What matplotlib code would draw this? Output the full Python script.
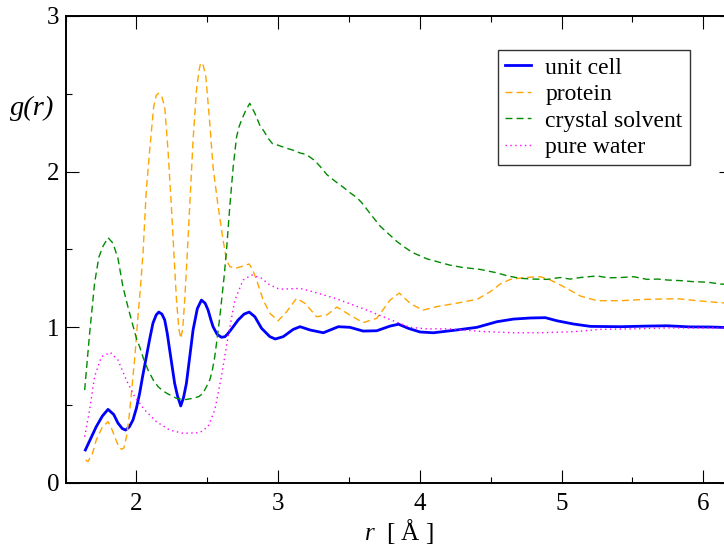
import matplotlib
matplotlib.use("Agg")
import matplotlib.pyplot as plt
from matplotlib.ticker import MultipleLocator

plt.rcParams['font.family'] = ['Liberation Serif', 'DejaVu Serif']
plt.rcParams['mathtext.fontset'] = 'custom'
plt.rcParams['mathtext.it'] = 'Liberation Serif:italic'
plt.rcParams['mathtext.rm'] = 'Liberation Serif'

# g(r) curves, r in Angstrom
r_cell = [1.64, 1.68, 1.717, 1.76, 1.80, 1.84, 1.87, 1.90, 1.924, 1.95, 1.976, 2.00, 2.023,
          2.045, 2.07, 2.095, 2.117, 2.14, 2.158, 2.18, 2.20, 2.218, 2.235, 2.252, 2.27, 2.29,
          2.313, 2.333, 2.353, 2.375, 2.40, 2.43, 2.459, 2.485, 2.506, 2.525, 2.541, 2.57, 2.60,
          2.625, 2.647, 2.68, 2.718, 2.76, 2.796, 2.836, 2.883, 2.942, 2.98, 3.036, 3.107, 3.155,
          3.225, 3.319, 3.425, 3.507, 3.60, 3.696, 3.79, 3.85, 3.92, 4.002, 4.096, 4.261, 4.403,
          4.544, 4.661, 4.78, 4.886, 4.968, 5.086, 5.204, 5.416, 5.604, 5.746, 5.90, 6.05, 6.2]
g_cell = [0.212, 0.29, 0.362, 0.43, 0.473, 0.44, 0.385, 0.35, 0.34, 0.36, 0.405, 0.48, 0.576,
          0.69, 0.81, 0.93, 1.027, 1.08, 1.098, 1.085, 1.047, 0.96, 0.854, 0.75, 0.64, 0.56,
          0.495, 0.55, 0.64, 0.80, 0.983, 1.12, 1.175, 1.155, 1.111, 1.05, 1.004, 0.955, 0.936,
          0.94, 0.961, 1.00, 1.047, 1.085, 1.098, 1.068, 0.994, 0.94, 0.925, 0.94, 0.987, 1.004,
          0.983, 0.965, 1.004, 1.0, 0.976, 0.978, 1.008, 1.02, 0.993, 0.97, 0.965, 0.983, 1.0,
          1.036, 1.053, 1.06, 1.062, 1.042, 1.021, 1.006, 1.004, 1.008, 1.01, 1.003, 1.002, 0.998]

r_prot = [1.642, 1.658, 1.69, 1.717, 1.76, 1.80, 1.825, 1.847, 1.87, 1.894, 1.912, 1.93, 1.948,
          1.965, 1.99, 2.011, 2.03, 2.047, 2.07, 2.094, 2.122, 2.14, 2.15, 2.16, 2.17, 2.18, 2.20,
          2.223, 2.247, 2.266, 2.283, 2.30, 2.313, 2.327, 2.341, 2.358, 2.382, 2.40, 2.424, 2.442,
          2.45, 2.459, 2.467, 2.475, 2.49, 2.518, 2.541, 2.577, 2.612, 2.636, 2.66, 2.695, 2.74,
          2.796, 2.82, 2.848, 2.871, 2.895, 2.942, 3.0, 3.06, 3.13, 3.19, 3.272, 3.343, 3.415,
          3.507, 3.60, 3.696, 3.79, 3.855, 3.932, 4.02, 4.12, 4.26, 4.405, 4.497, 4.57, 4.638,
          4.756, 4.85, 4.921, 5.015, 5.133, 5.251, 5.416, 5.604, 5.816, 5.958, 6.122, 6.2]
g_prot = [0.148, 0.137, 0.19, 0.276, 0.36, 0.394, 0.35, 0.297, 0.245, 0.216, 0.225, 0.297, 0.42,
          0.576, 0.82, 1.068, 1.27, 1.48, 1.88, 2.14, 2.417, 2.49, 2.50, 2.503, 2.497, 2.48,
          2.417, 2.139, 1.775, 1.453, 1.175, 0.99, 0.929, 0.99, 1.175, 1.453, 1.88, 2.203, 2.524,
          2.65, 2.685, 2.70, 2.695, 2.67, 2.61, 2.31, 2.03, 1.775, 1.56, 1.43, 1.39, 1.379, 1.39,
          1.407, 1.37, 1.304, 1.24, 1.175, 1.09, 1.042, 1.10, 1.186, 1.154, 1.068, 1.079, 1.13,
          1.079, 1.03, 1.058, 1.175, 1.22, 1.154, 1.11, 1.133, 1.155, 1.18, 1.229, 1.28, 1.308,
          1.321, 1.325, 1.304, 1.261, 1.201, 1.171, 1.171, 1.18, 1.184, 1.171, 1.158, 1.155]

r_solv = [1.635, 1.67, 1.705, 1.735, 1.764, 1.80, 1.835, 1.87, 1.905, 1.935, 1.965, 2.0, 2.023,
          2.05, 2.082, 2.12, 2.153, 2.19, 2.223, 2.283, 2.34, 2.40, 2.44, 2.47, 2.495, 2.518,
          2.537, 2.553, 2.57, 2.589, 2.619, 2.636, 2.659, 2.683, 2.707, 2.725, 2.742, 2.77, 2.80,
          2.836, 2.87, 2.90, 2.93, 2.96, 3.0, 3.06, 3.1, 3.155, 3.2, 3.26, 3.3, 3.345, 3.4, 3.46,
          3.5, 3.56, 3.6, 3.65, 3.72, 3.78, 3.84, 3.9, 3.95, 4.05, 4.13, 4.21, 4.3, 4.426, 4.544,
          4.62, 4.709, 4.8, 4.898, 4.99, 5.06, 5.133, 5.19, 5.251, 5.33, 5.416, 5.51, 5.604, 5.68,
          5.746, 5.84, 5.934, 6.03, 6.122, 6.2]
g_solv = [0.597, 0.961, 1.283, 1.45, 1.52, 1.576, 1.54, 1.443, 1.261, 1.15, 1.047, 0.93, 0.875,
          0.80, 0.726, 0.66, 0.619, 0.59, 0.572, 0.544, 0.535, 0.544, 0.555, 0.576, 0.62, 0.662,
          0.73, 0.811, 0.93, 1.068, 1.325, 1.496, 1.775, 2.03, 2.224, 2.29, 2.331, 2.39, 2.439,
          2.375, 2.30, 2.26, 2.214, 2.18, 2.17, 2.15, 2.14, 2.12, 2.11, 2.07, 2.03, 1.98, 1.94,
          1.90, 1.87, 1.83, 1.79, 1.73, 1.65, 1.60, 1.55, 1.51, 1.48, 1.44, 1.42, 1.40, 1.385,
          1.372, 1.35, 1.33, 1.315, 1.31, 1.308, 1.32, 1.31, 1.32, 1.325, 1.33, 1.318, 1.32,
          1.325, 1.308, 1.31, 1.304, 1.30, 1.293, 1.29, 1.278, 1.275]

r_water = [1.635, 1.67, 1.705, 1.753, 1.816, 1.87, 1.929, 1.988, 2.059, 2.141, 2.235, 2.33,
           2.447, 2.506, 2.553, 2.60, 2.647, 2.695, 2.753, 2.813, 2.883, 2.942, 3.01, 3.155,
           3.22, 3.39, 3.6, 3.79, 3.93, 4.05, 4.21, 4.426, 4.661, 4.85, 5.086, 5.274, 5.5,
           5.746, 6.0, 6.2]
g_water = [0.297, 0.469, 0.683, 0.811, 0.839, 0.79, 0.662, 0.554, 0.469, 0.394, 0.34, 0.319,
           0.323, 0.362, 0.469, 0.683, 0.94, 1.175, 1.304, 1.336, 1.315, 1.272, 1.245, 1.25,
           1.235, 1.19, 1.12, 1.05, 1.00, 0.99, 0.99, 0.974, 0.965, 0.965, 0.972, 0.987, 0.99,
           0.996, 0.996, 0.996]

fig = plt.figure(figsize=(7.24, 5.46), dpi=100)
ax = fig.add_axes([0.0905, 0.1154, 0.920, 0.8553])

ax.plot(r_cell, g_cell, color='#0000ff', lw=2.0, label='unit cell')
ax.plot(r_prot, g_prot, color='#ffa500', lw=1.0, dashes=(5, 3), label='protein')
ax.plot(r_solv, g_solv, color='#008b00', lw=1.0, dashes=(5, 3), label='crystal solvent')
ax.plot(r_water, g_water, color='#ff00ff', lw=1.0, dashes=(1, 2.5), label='pure water')

ax.set_xlim(1.5, 6.2)
ax.set_ylim(0, 3)
ax.xaxis.set_major_locator(MultipleLocator(1))
ax.xaxis.set_minor_locator(MultipleLocator(0.5))
ax.yaxis.set_major_locator(MultipleLocator(1))
ax.yaxis.set_minor_locator(MultipleLocator(0.5))
ax.tick_params(which='both', direction='in', top=True, right=True, width=0.8, labelsize=18)
ax.tick_params(which='major', length=9.5)
ax.tick_params(which='minor', length=4.5)
ax.tick_params(axis='x', pad=7)
ax.tick_params(axis='y', pad=4.5)
for s in ax.spines.values():
    s.set_linewidth(1.4)

ax.set_xlabel('$r$  [ Å ]', fontsize=18, labelpad=2)
fig.text(32 / 724, 1 - 108 / 546, 'g(r)', fontsize=20.5, style='italic',
         ha='center', va='center')

leg = ax.legend(loc='upper left', bbox_to_anchor=(498 / 724, 1 - 50 / 546),
                bbox_transform=fig.transFigure, fontsize=17, frameon=True,
                fancybox=False, handlelength=1.1, handletextpad=0.6,
                labelspacing=0.21, borderpad=0.3, borderaxespad=0)
leg.get_frame().set_edgecolor('black')
leg.get_frame().set_linewidth(1.0)

fig.savefig('out.png', dpi=100)
